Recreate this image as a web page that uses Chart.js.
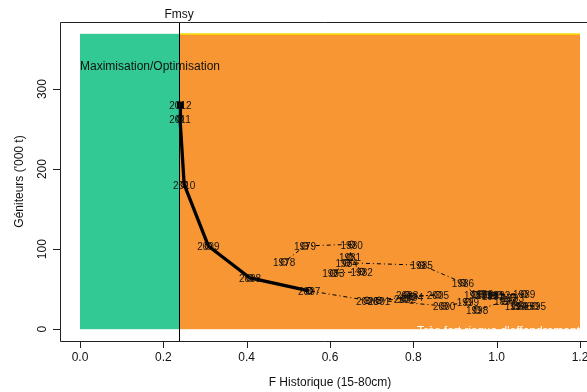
<!DOCTYPE html>
<html>
<head>
<meta charset="utf-8">
<script src="https://cdn.jsdelivr.net/npm/chart.js@4/dist/chart.umd.min.js"></script>
<style>
html,body{margin:0;padding:0;background:#fff;overflow:hidden;}
canvas{display:block;}
</style>
</head>
<body>
<canvas id="c" width="587" height="392"></canvas>
<script>
// ---- data ----
const histYears = [1978,1979,1980,1981,1982,1983,1984,1985,1986,1987,1988,1989,1990,1991,1992,1993,1994,1995,1996,1997,1998,1999,2000,2001,2002,2003,2004,2005,2006,2007];
const histF = [0.490,0.540,0.652,0.648,0.676,0.608,0.640,0.820,0.919,0.948,0.965,1.066,0.977,0.991,1.006,1.039,1.046,1.092,1.058,1.020,0.953,0.931,0.874,0.718,0.780,0.785,0.797,0.859,0.689,0.550];
const histB = [84,104,106,90,72,70,83,80,58,43,44,44,43,42,43,39,29,29,29,35,24,34,29,36,38,43,41,43,36,48];
const projYears = [2007,2008,2009,2010,2011,2012];
const projF = [0.550,0.408,0.308,0.250,0.240,0.241];
const projB = [48,64,104,181,263,280];
const xTicks = [0,0.2,0.4,0.6,0.8,1.0,1.2];
const yTicks = [0,100,200,300];
const fmsy = 0.238;
const zoneTop = 369;
const zoneRight = 1.2;

const FONT = '"Liberation Sans", Arial, Helvetica, sans-serif';

const decor = {
  id: 'decor',
  beforeDatasetsDraw(chart) {
    const {ctx, chartArea: a, scales: {x, y}} = chart;
    ctx.save();
    const x0 = x.getPixelForValue(0), xf = x.getPixelForValue(fmsy), xr = x.getPixelForValue(zoneRight);
    const y0 = y.getPixelForValue(0), yt = y.getPixelForValue(zoneTop);
    ctx.fillStyle = '#33C995';
    ctx.fillRect(x0, yt, xf - x0, y0 - yt);
    ctx.fillStyle = '#F89633';
    ctx.fillRect(xf, yt, xr - xf, y0 - yt);
    ctx.fillStyle = '#F5E000';
    ctx.fillRect(xf, yt - 0.5, xr - xf, 1.5);
    // zone texts
    ctx.font = '12px ' + FONT;
    ctx.fillStyle = '#111';
    ctx.textAlign = 'left';
    ctx.textBaseline = 'alphabetic';
    ctx.fillText('Maximisation/Optimisation', x0, y.getPixelForValue(324));
    ctx.fillStyle = '#ffffff';
    ctx.textAlign = 'right';
    ctx.fillText("Très fort risque d'effondrement", xr, y.getPixelForValue(-7.8));
    // Fmsy line
    ctx.strokeStyle = '#000';
    ctx.lineWidth = 1;
    ctx.beginPath();
    ctx.moveTo(Math.round(xf) + 0.5, a.top);
    ctx.lineTo(Math.round(xf) + 0.5, a.bottom);
    ctx.stroke();
    ctx.restore();
  },
  afterDatasetsDraw(chart) {
    const {ctx, chartArea: a, scales: {x, y}} = chart;
    ctx.save();
    // year labels
    ctx.font = '10px ' + FONT;
    ctx.fillStyle = '#141414';
    ctx.textAlign = 'center';
    ctx.textBaseline = 'middle';
    const m0 = chart.getDatasetMeta(0), m1 = chart.getDatasetMeta(1);
    m0.data.forEach((p, i) => { if (histYears[i] !== 2007) ctx.fillText(String(histYears[i]), p.x, p.y + 1.5); });
    m1.data.forEach((p, i) => ctx.fillText(String(projYears[i]), p.x, p.y + 1.5));
    // box
    ctx.strokeStyle = '#222';
    ctx.lineWidth = 1;
    ctx.beginPath();
    ctx.moveTo(a.right + 5, a.top + 0.5);
    ctx.lineTo(a.left + 0.5, a.top + 0.5);
    ctx.lineTo(a.left + 0.5, a.bottom + 0.5);
    ctx.lineTo(a.right + 5, a.bottom + 0.5);
    ctx.stroke();
    // x axis ticks
    ctx.font = '12px ' + FONT;
    ctx.fillStyle = '#111';
    ctx.textAlign = 'center';
    ctx.textBaseline = 'middle';
    ctx.beginPath();
    xTicks.forEach(v => {
      const px = Math.round(x.getPixelForValue(v)) + 0.5;
      ctx.moveTo(px, a.bottom); ctx.lineTo(px, a.bottom + 7);
    });
    ctx.stroke();
    xTicks.forEach(v => ctx.fillText(v.toFixed(1), x.getPixelForValue(v), a.bottom + 16.5));
    // y axis ticks
    ctx.beginPath();
    yTicks.forEach(v => {
      const py = Math.round(y.getPixelForValue(v)) + 0.5;
      ctx.moveTo(a.left, py); ctx.lineTo(a.left - 7, py);
    });
    ctx.stroke();
    yTicks.forEach(v => {
      ctx.save();
      ctx.translate(a.left - 17.5, y.getPixelForValue(v));
      ctx.rotate(-Math.PI / 2);
      ctx.fillText(String(v), 0, 0);
      ctx.restore();
    });
    // titles
    ctx.fillText('F Historique (15-80cm)', (x.getPixelForValue(-0.048) + x.getPixelForValue(1.248)) / 2, 383);
    ctx.save();
    ctx.translate(20, (a.top + a.bottom) / 2);
    ctx.rotate(-Math.PI / 2);
    ctx.fillText("Géniteurs ('000 t)", 0, 0);
    ctx.restore();
    ctx.textBaseline = 'alphabetic';
    ctx.fillText('Fmsy', x.getPixelForValue(fmsy), a.top - 4);
    ctx.restore();
  }
};

new Chart(document.getElementById('c'), {
  type: 'scatter',
  data: {
    datasets: [
      {
        label: 'Historique',
        data: histF.map((f, i) => ({x: f, y: histB[i]})),
        showLine: true,
        borderColor: '#000',
        borderWidth: 1,
        borderDash: [1, 3, 4, 3],
        pointStyle: 'circle',
        pointRadius: 3.3,
        pointBorderWidth: 1,
        pointBorderColor: '#000',
        pointBackgroundColor: 'rgba(0,0,0,0)',
        tension: 0
      },
      {
        label: 'Projection',
        data: projF.map((f, i) => ({x: f, y: projB[i]})),
        showLine: true,
        borderColor: '#000',
        borderWidth: 3.3,
        pointStyle: projYears.map(yv => yv === 2012 ? 'rect' : 'circle'),
        pointRadius: projYears.map(yv => yv === 2012 ? 4.2 : 3.3),
        pointBorderWidth: 1,
        pointBorderColor: '#000',
        pointBackgroundColor: projYears.map(yv => yv === 2012 ? '#000' : 'rgba(0,0,0,0)'),
        tension: 0
      }
    ]
  },
  options: {
    responsive: false,
    animation: false,
    devicePixelRatio: 1,
    layout: {autoPadding: false, padding: {left: 60, top: 22, right: 0, bottom: 51}},
    plugins: {legend: {display: false}, tooltip: {enabled: false}},
    scales: {
      x: {type: 'linear', display: false, min: -0.048, max: 1.2168},
      y: {type: 'linear', display: false, min: -14.76, max: 383.76}
    }
  },
  plugins: [decor]
});
</script>
</body>
</html>
